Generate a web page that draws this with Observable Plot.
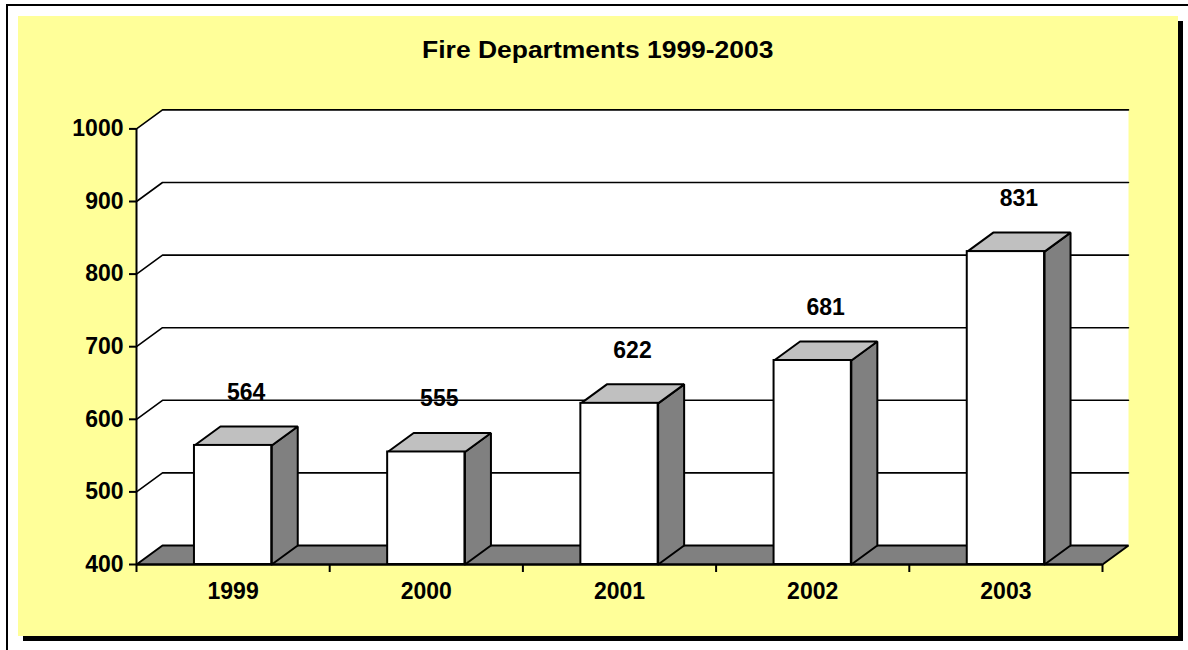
<!DOCTYPE html>
<html><head><meta charset="utf-8">
<script src="https://cdn.jsdelivr.net/npm/d3@7"></script>
<script src="https://cdn.jsdelivr.net/npm/@observablehq/plot@0.6"></script>
<style>
body{margin:0;background:#fff;}
#wrap{position:relative;width:1188px;height:650px;overflow:hidden;font-family:"Liberation Sans",Arial,sans-serif;}
#outer{position:absolute;left:6px;top:4px;width:1300px;height:800px;border-left:2px solid #000;border-top:2px solid #000;}
#shadow{position:absolute;left:23px;top:21px;width:1160px;height:620px;background:#000;}
#panel{position:absolute;left:18px;top:16px;width:1160px;height:620px;background:#FFFF99;}
#title{position:absolute;left:18px;width:1160px;top:39px;text-align:center;font-weight:bold;font-size:23px;line-height:23px;color:#000;}
#title span{display:inline-block;transform:scaleX(1.15);}
#chart{position:absolute;left:0;top:0;}
</style></head><body>
<div id="wrap"><div id="outer"></div><div id="shadow"></div><div id="panel"></div>
<div id="chart"></div>
<div id="title"><span></span></div></div>
<script>
const title = "Fire Departments 1999-2003";
const years = ["1999", "2000", "2001", "2002", "2003"];
const departments = [564, 555, 622, 681, 831];
const yTicks = [400, 500, 600, 700, 800, 900, 1000];

document.querySelector("#title span").textContent = title;

const W = 1188, H = 650;
const mL = 136, mR = 86, mT = 128.4, mB = 86;
const yMin = 400, yMax = 1000;
const n = years.length;
// depth of the 3D effect in pixels, converted to data units
const depthPx = [26, 19];
const DX = depthPx[0] / ((W - mL - mR) / n);
const DY = depthPx[1] / ((H - mT - mB) / (yMax - yMin));
const barLo = 0.3, barHi = 0.7;

function poly(id, pts) { return pts.map(([x, y]) => ({id, x, y})); }

const walls = poly("walls", [[0, yMin], [0, yMax], [DX, yMax + DY], [n + DX, yMax + DY], [n + DX, yMin + DY], [DX, yMin + DY], [0, yMin]]);
const grid = yTicks.filter(v => v > yMin).flatMap(v =>
  poly("g" + v, [[0, v], [DX, v + DY], [n + DX, v + DY]]));
const floor = poly("floor", [[0, yMin], [n, yMin], [n + DX, yMin + DY], [DX, yMin + DY], [0, yMin]]);
const sides = departments.flatMap((v, i) =>
  poly("s" + i, [[i + barHi, yMin], [i + barHi, v], [i + barHi + DX, v + DY], [i + barHi + DX, yMin + DY], [i + barHi, yMin]]));
const tops = departments.flatMap((v, i) =>
  poly("t" + i, [[i + barLo, v], [i + barHi, v], [i + barHi + DX, v + DY], [i + barLo + DX, v + DY], [i + barLo, v]]));
const fronts = departments.map((v, i) => ({x1: i + barLo, x2: i + barHi, y1: yMin, y2: v}));

const chart = Plot.plot({
  width: W, height: H,
  marginLeft: mL, marginRight: mR, marginTop: mT, marginBottom: mB,
  x: {domain: [0, n]},
  y: {domain: [yMin, yMax]},
  style: {background: "transparent", overflow: "visible", fontFamily: "Liberation Sans, Arial, sans-serif", fontSize: "23px", fontWeight: "bold", color: "#000"},
  marks: [
    Plot.line(walls, {x: "x", y: "y", z: "id", fill: "white", stroke: "none"}),
    Plot.line(grid, {x: "x", y: "y", z: "id", stroke: "black", strokeWidth: 1.6}),
    Plot.line(floor, {x: "x", y: "y", z: "id", fill: "#808080", stroke: "black", strokeWidth: 2, strokeLinejoin: "miter"}),
    Plot.line(sides, {x: "x", y: "y", z: "id", fill: "#808080", stroke: "black", strokeWidth: 2, strokeLinejoin: "miter"}),
    Plot.line(tops, {x: "x", y: "y", z: "id", fill: "#C0C0C0", stroke: "black", strokeWidth: 2, strokeLinejoin: "miter"}),
    Plot.rect(fronts, {x1: "x1", x2: "x2", y1: "y1", y2: "y2", fill: "white", stroke: "black", strokeWidth: 2}),
    Plot.ruleX([0], {y1: yMin, y2: yMax, stroke: "black", strokeWidth: 2}),
    Plot.ruleY([yMin], {x1: 0, x2: n, stroke: "black", strokeWidth: 2}),
    Plot.axisY({ticks: yTicks, tickSize: 7, tickPadding: 6, strokeWidth: 2, label: null, tickFormat: d => String(d)}),
    Plot.axisX({ticks: d3.range(n + 1), tickSize: 8, strokeWidth: 2, tickFormat: () => "", label: null}),
    Plot.axisX({ticks: d3.range(n).map(i => i + 0.5), tickSize: 0, tickPadding: 18, label: null, tickFormat: t => years[Math.floor(t)]}),
    Plot.text(departments, {x: (d, i) => i + 0.5 + DX / 2, y: d => d + DY, dy: -34, text: d => String(d), fill: "black"})
  ]
});
document.getElementById("chart").appendChild(chart);
</script>
</body></html>
